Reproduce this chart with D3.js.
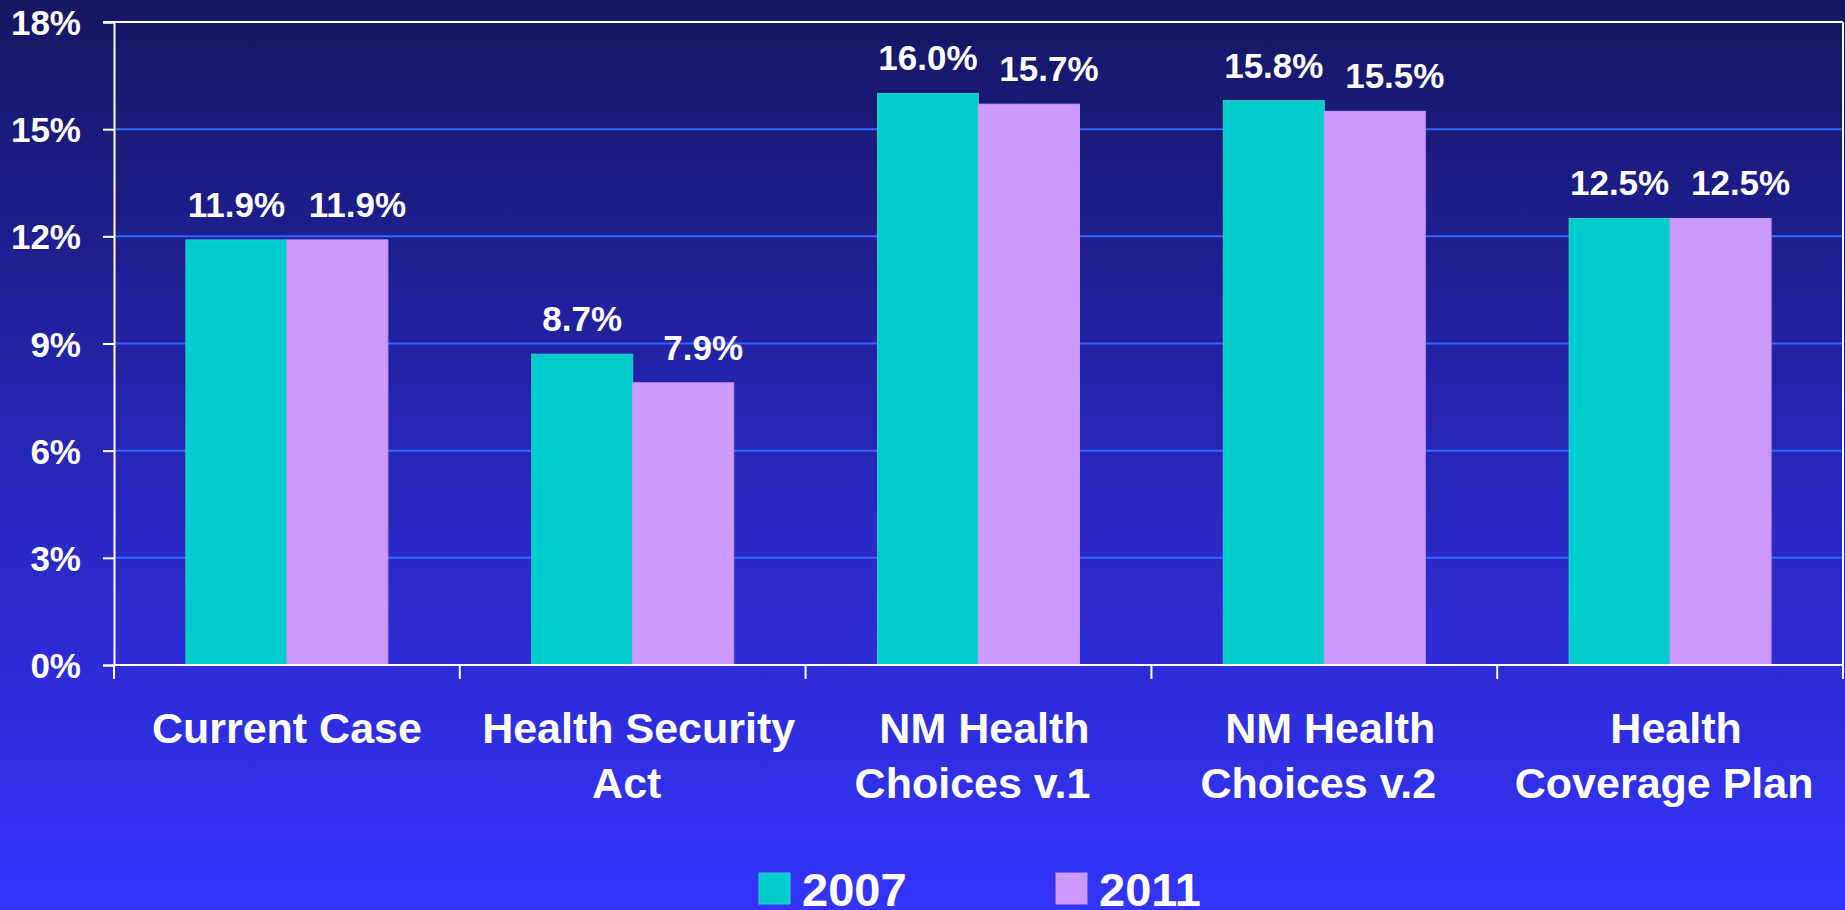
<html>
  <head>
    <script src="https://d3js.org/d3.v7.min.js"></script>
    <style>
      body { margin: 0; overflow: hidden; }
      text { font-family: "Liberation Sans", Arial, sans-serif; font-weight: bold; fill: #fff; }
      text.cat { white-space: pre; }
    </style>
  </head>
  <body>
    <svg id="chart" width="1845" height="910"></svg>
    <script>
      // chart data (the spaces are in the original labels and shift the lines a little)
      const categories = [
        ["Current Case"],
        [" Health Security", "Act "],
        [" NM Health", "Choices v.1 "],
        [" NM Health", "Choices v.2 "],
        [" Health", "Coverage Plan "]
      ];
      const series = ["2007", "2011"];
      const values2007 = [11.9, 8.7, 16.0, 15.8, 12.5];
      const values2011 = [11.9, 7.9, 15.7, 15.5, 12.5];
      const yTicks = [0, 3, 6, 9, 12, 15, 18];
      const colors = ["#00cccc", "#cc99ff"];

      const svg = d3.select("#chart");
      const width = 1845, height = 910;
      const margin = { left: 114, right: 2, top: 22, bottom: 245 };

      // background gradient
      const defs = svg.append("defs");
      const grad = defs.append("linearGradient").attr("id", "bg")
        .attr("x1", 0).attr("y1", 0).attr("x2", 0).attr("y2", 1);
      grad.append("stop").attr("offset", "0%").attr("stop-color", "#161662");
      grad.append("stop").attr("offset", "50%").attr("stop-color", "#2626b8");
      grad.append("stop").attr("offset", "100%").attr("stop-color", "#3434fa");
      svg.append("rect").attr("width", width).attr("height", height).attr("fill", "url(#bg)");

      const x = d3.scaleBand()
        .domain(d3.range(categories.length))
        .range([margin.left, width - margin.right])
        .paddingInner(0).paddingOuter(0);
      const x1 = d3.scaleBand()
        .domain(series)
        .range([0, x.bandwidth()])
        .paddingOuter(0.712);
      const y = d3.scaleLinear().domain([0, 18]).range([height - margin.bottom, margin.top]);

      // grid lines
      svg.append("g").selectAll("line")
        .data(yTicks.filter(t => t > 0 && t < 18))
        .join("line")
        .attr("x1", margin.left).attr("x2", width - margin.right)
        .attr("y1", d => y(d)).attr("y2", d => y(d))
        .attr("stroke", "#3366ff").attr("stroke-width", 2);

      // bars
      const data = categories.map((c, i) => ({ i, vals: [values2007[i], values2011[i]] }));
      const groups = svg.append("g").selectAll("g")
        .data(data).join("g")
        .attr("transform", d => `translate(${x(d.i)},0)`);
      groups.selectAll("rect")
        .data(d => d.vals.map((v, k) => ({ v, k })))
        .join("rect")
        .attr("x", d => x1(series[d.k]))
        .attr("width", x1.bandwidth())
        .attr("y", d => y(d.v))
        .attr("height", d => y(0) - y(d.v))
        .attr("fill", d => colors[d.k])
        .attr("stroke", d => d.k === 0 ? "#33cccc" : "#c896fc")
        .attr("stroke-width", 1);
      // 2011 labels sit a bit right of their bar in the original
      groups.selectAll("text")
        .data(d => d.vals.map((v, k) => ({ v, k })))
        .join("text")
        .attr("x", d => x1(series[d.k]) + x1.bandwidth() / 2 + (d.k === 1 ? 20 : 0))
        .attr("y", d => y(d.v) - 23)
        .attr("text-anchor", "middle")
        .attr("font-size", 35)
        .text(d => d.v.toFixed(1) + "%");

      // frame: top and right border
      svg.append("line").attr("x1", margin.left - 11).attr("x2", width - margin.right)
        .attr("y1", y(18)).attr("y2", y(18)).attr("stroke", "#fff").attr("stroke-width", 2);
      svg.append("line").attr("x1", width - margin.right).attr("x2", width - margin.right)
        .attr("y1", y(18)).attr("y2", y(0) + 14).attr("stroke", "#fff").attr("stroke-width", 2);

      // y axis
      const yAxis = svg.append("g")
        .attr("transform", `translate(${margin.left},0)`)
        .call(d3.axisLeft(y).tickValues(yTicks).tickSize(11).tickPadding(22).tickFormat(d => d + "%"));
      yAxis.attr("font-family", null);
      yAxis.select(".domain").attr("stroke", "#fff").attr("stroke-width", 2);
      yAxis.selectAll(".tick line").attr("stroke", "#fff").attr("stroke-width", 2);
      yAxis.selectAll(".tick text").attr("font-size", 35).attr("fill", "#fff").attr("dy", "0.36em");

      // x axis
      const xAxisG = svg.append("g").attr("transform", `translate(0,${y(0)})`);
      xAxisG.append("line").attr("x1", margin.left).attr("x2", width - margin.right)
        .attr("stroke", "#fff").attr("stroke-width", 2);
      xAxisG.selectAll("line.tick")
        .data(d3.range(categories.length + 1))
        .join("line").attr("class", "tick")
        .attr("x1", d => d < categories.length ? x(d) : width - margin.right)
        .attr("x2", d => d < categories.length ? x(d) : width - margin.right)
        .attr("y1", 0).attr("y2", 14)
        .attr("stroke", "#fff").attr("stroke-width", 2);
      const catLabels = xAxisG.selectAll("text.cat")
        .data(categories).join("text").attr("class", "cat")
        .attr("text-anchor", "middle")
        .attr("font-size", 43)
        .attr("x", (d, i) => x(i) + x.bandwidth() / 2)
        .attr("y", 78);
      catLabels.selectAll("tspan")
        .data(d => d).join("tspan")
        .attr("x", function () { return d3.select(this.parentNode).attr("x"); })
        .attr("dy", (d, i) => i === 0 ? 0 : 55)
        .text(d => d);

      // legend (text touches the bottom edge, as in the original)
      const legendX = [759, 1056];
      const legend = svg.append("g").selectAll("g")
        .data(series).join("g")
        .attr("transform", (d, i) => `translate(${legendX[i]},873)`);
      legend.append("rect").attr("width", 31).attr("height", 31)
        .attr("fill", (d, i) => colors[i])
        .attr("stroke", (d, i) => i === 0 ? "#33cccc" : "#c896fc");
      legend.append("text").attr("x", 43).attr("y", 33)
        .attr("font-size", 47)
        .text(d => d);
    </script>
  </body>
</html>
